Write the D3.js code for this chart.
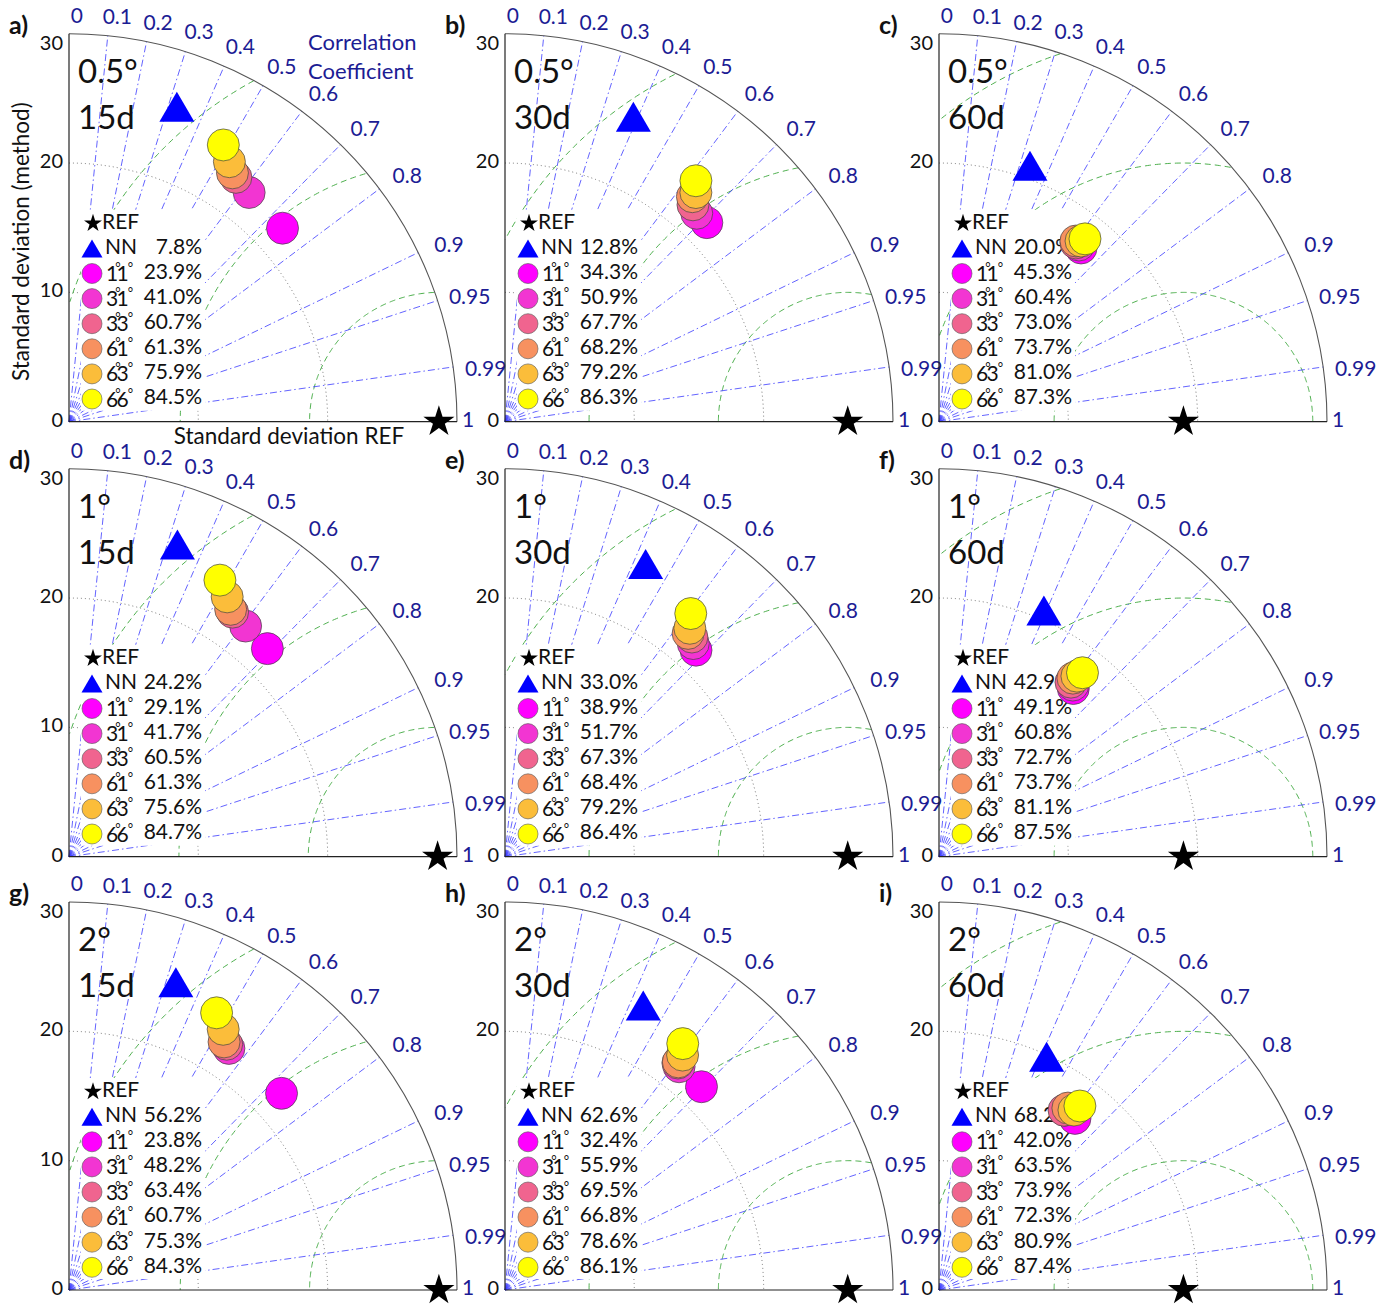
<!DOCTYPE html>
<html>
<head>
<meta charset="utf-8">
<script src="https://cdn.jsdelivr.net/npm/d3@7"></script>
<style>
  body { margin: 0; background: #fff; }
  svg { display: block; }
  text { font-family: Lato, "Open Sans", sans-serif; }
</style>
</head>
<body>
<svg id="chart"></svg>
<script>
// ---- data ----
const panelLetters = ["a)", "b)", "c)", "d)", "e)", "f)", "g)", "h)", "i)"];
const resolutions = ["0.5°", "0.5°", "0.5°", "1°", "1°", "1°", "2°", "2°", "2°"];
const windows = ["15d", "30d", "60d", "15d", "30d", "60d", "15d", "30d", "60d"];

const refStd = [28.6, 26.5, 18.9, 28.5, 26.5, 18.9, 28.6, 26.5, 18.9];

const nnStd = [25.74, 25.58, 21.0, 25.56, 25.11, 20.69, 25.19, 24.46, 19.86];
const nnCorr = [0.324, 0.388, 0.335, 0.328, 0.433, 0.392, 0.328, 0.437, 0.419];
const nnPct = ["7.8%", "12.8%", "20.0%", "24.2%", "33.0%", "42.9%", "56.2%", "62.6%", "68.2%"];

const methodNames = ["11", "31", "33", "61", "63", "66"];
const methodColors = ["#ff00ff", "#f235d2", "#f0648f", "#f79160", "#fbbd3a", "#ffff00"];

// one row per panel, one column per method
const methodStd = [
  [22.28, 22.54, 22.88, 23.02, 23.62, 24.50],
  [21.92, 21.90, 22.19, 22.64, 23.06, 23.77],
  [17.35, 17.43, 17.41, 17.53, 17.77, 18.09],
  [22.23, 22.46, 22.75, 22.85, 23.52, 24.36],
  [21.75, 21.99, 22.30, 22.33, 22.72, 23.66],
  [16.64, 16.83, 16.92, 17.26, 17.57, 18.04],
  [22.39, 22.40, 22.58, 22.62, 23.42, 24.28],
  [21.86, 21.89, 22.06, 22.15, 22.77, 23.49],
  [16.93, 16.98, 16.93, 17.24, 17.39, 17.92]
];
const methodCorr = [
  [0.741, 0.618, 0.564, 0.549, 0.525, 0.487],
  [0.712, 0.677, 0.655, 0.640, 0.640, 0.621],
  [0.633, 0.621, 0.608, 0.604, 0.618, 0.624],
  [0.690, 0.608, 0.556, 0.547, 0.520, 0.479],
  [0.679, 0.662, 0.648, 0.634, 0.629, 0.607],
  [0.624, 0.615, 0.603, 0.600, 0.607, 0.615],
  [0.734, 0.552, 0.540, 0.530, 0.509, 0.470],
  [0.695, 0.615, 0.606, 0.605, 0.603, 0.585],
  [0.621, 0.574, 0.571, 0.578, 0.600, 0.608]
];
const methodPct = [
  ["23.9%", "41.0%", "60.7%", "61.3%", "75.9%", "84.5%"],
  ["34.3%", "50.9%", "67.7%", "68.2%", "79.2%", "86.3%"],
  ["45.3%", "60.4%", "73.0%", "73.7%", "81.0%", "87.3%"],
  ["29.1%", "41.7%", "60.5%", "61.3%", "75.6%", "84.7%"],
  ["38.9%", "51.7%", "67.3%", "68.4%", "79.2%", "86.4%"],
  ["49.1%", "60.8%", "72.7%", "73.7%", "81.1%", "87.5%"],
  ["23.8%", "48.2%", "63.4%", "60.7%", "75.3%", "84.3%"],
  ["32.4%", "55.9%", "69.5%", "66.8%", "78.6%", "86.1%"],
  ["42.0%", "63.5%", "73.9%", "72.3%", "80.9%", "87.4%"]
];

const corrTicks = [0, 0.1, 0.2, 0.3, 0.4, 0.5, 0.6, 0.7, 0.8, 0.9, 0.95, 0.99, 1];
const corrLines = [0.1, 0.2, 0.3, 0.4, 0.5, 0.6, 0.7, 0.8, 0.9, 0.95, 0.99];
const stdGrid = [10, 20];
const rmsLevels = [10, 20, 30];
const stdTicksFirstCol = [0, 10, 20, 30];
const stdTicksOtherCols = [0, 20, 30];
const stdMax = 30;

// ---- layout ----
const W = 1381, H = 1305;
const R = 388;
const colX = [69, 505, 939];
const rowY = [421.7, 856.7, 1290];
const navy = "#1c1c94";
const fs = 21;

const r = d3.scaleLinear().domain([0, stdMax]).range([0, R]);

const svg = d3.select("#chart").attr("width", W).attr("height", H);

function polar(std, corr) {
  const a = Math.acos(corr);
  return [r(std * Math.cos(a)), -r(std * Math.sin(a))];
}

// where the correlation labels sit around the outer arc
function corrLabelPos(c) {
  if (c === 1) return [R + 5, 0];
  const a = Math.acos(c) - (1.1 * Math.PI) / 180;
  const rr = 404 + 16 * c;
  return [rr * Math.cos(a), -rr * Math.sin(a)];
}

function trianglePath(w, h) {
  return `M0,${-h / 2}L${w / 2},${h / 2}L${-w / 2},${h / 2}Z`;
}

const starBig = d3.symbol().type(d3.symbolStar).size(300)();
const starSmall = d3.symbol().type(d3.symbolStar).size(100)();

function drawPanel(p) {
  const col = p % 3, row = Math.floor(p / 3);
  const g = svg.append("g").attr("transform", `translate(${colX[col]},${rowY[row]})`);
  const ref = refStd[p];

  // std dotted arcs
  g.selectAll(".stdgrid")
    .data(stdGrid)
    .join("path")
    .attr("d", (d) => `M0,${-r(d)}A${r(d)},${r(d)} 0 0,1 ${r(d)},0`)
    .attr("fill", "none")
    .attr("stroke", "#666")
    .attr("stroke-width", 0.9)
    .attr("stroke-dasharray", "1,3");

  // RMS (centred on REF) dashed green arcs, clipped to the quadrant
  const line = d3.line().x((d) => r(d[0])).y((d) => -r(d[1]));
  rmsLevels.forEach((lev) => {
    const pts = d3.range(0, 180.01, 0.5)
      .map((t) => [ref + lev * Math.cos((t * Math.PI) / 180), lev * Math.sin((t * Math.PI) / 180)])
      .filter((d) => d[0] >= 0 && Math.hypot(d[0], d[1]) <= stdMax);
    if (pts.length > 1) {
      g.append("path")
        .attr("d", line(pts))
        .attr("fill", "none")
        .attr("stroke", "#3aa63a")
        .attr("stroke-width", 0.9)
        .attr("stroke-dasharray", "6,4");
    }
  });

  // correlation dash-dot lines
  g.selectAll(".corr")
    .data(corrLines)
    .join("line")
    .attr("x1", 0)
    .attr("y1", 0)
    .attr("x2", (d) => polar(stdMax, d)[0])
    .attr("y2", (d) => polar(stdMax, d)[1])
    .attr("stroke", "#3b3bff")
    .attr("stroke-width", 0.8)
    .attr("stroke-dasharray", "7,3,1.5,3");

  // outer arc and axes
  g.append("path")
    .attr("d", `M0,${-R}A${R},${R} 0 0,1 ${R},0`)
    .attr("fill", "none")
    .attr("stroke", "#555")
    .attr("stroke-width", 1.1);
  g.append("line").attr("x1", 0).attr("y1", 0).attr("x2", 0).attr("y2", -R)
    .attr("stroke", "#222").attr("stroke-width", 1.2);
  g.append("line").attr("x1", 0).attr("y1", 0).attr("x2", R).attr("y2", 0)
    .attr("stroke", "#222").attr("stroke-width", 1.2);

  // std tick labels
  const ticks = col === 0 ? stdTicksFirstCol : stdTicksOtherCols;
  g.selectAll(".ytick")
    .data(ticks)
    .join("text")
    .attr("x", -6)
    .attr("y", (d) => -r(d) + (d === stdMax ? 11 : 0))
    .attr("text-anchor", "end")
    .attr("dominant-baseline", "middle")
    .attr("font-size", 20)
    .attr("fill", "#111")
    .text((d) => d);

  // correlation labels
  g.selectAll(".ctick")
    .data(corrTicks)
    .join("text")
    .attr("x", (d) => corrLabelPos(d)[0])
    .attr("y", (d) => corrLabelPos(d)[1])
    .attr("text-anchor", (d) => (d === 1 ? "start" : "middle"))
    .attr("dominant-baseline", "middle")
    .attr("font-size", fs)
    .attr("fill", navy)
    .text((d) => d);

  // panel letter and title
  g.append("text").attr("x", -60).attr("y", -388)
    .attr("font-size", 25).attr("font-weight", "bold").attr("fill", "#111")
    .text(panelLetters[p]);
  g.append("text").attr("x", 9).attr("y", -339)
    .attr("font-size", 33).attr("fill", "#111").text(resolutions[p]);
  g.append("text").attr("x", 9).attr("y", -293)
    .attr("font-size", 33).attr("fill", "#111").text(windows[p]);

  // legend
  const lg = g.append("g");
  lg.append("rect").attr("x", 12).attr("y", -212).attr("width", 124).attr("height", 201).attr("fill", "#fff");
  const rowStep = 25.1;
  const rowTop = -198.4;

  lg.append("path").attr("d", starSmall).attr("transform", `translate(24,${rowTop})`).attr("fill", "#000");
  lg.append("text").attr("x", 33).attr("y", rowTop).attr("dominant-baseline", "middle")
    .attr("font-size", fs).attr("fill", "#111").text("REF");

  const nnY = rowTop + rowStep;
  lg.append("path").attr("d", trianglePath(21, 18)).attr("transform", `translate(23,${nnY})`).attr("fill", "#0000ff");
  lg.append("text").attr("x", 36).attr("y", nnY).attr("dominant-baseline", "middle")
    .attr("font-size", fs).attr("fill", "#111").text("NN");
  lg.append("text").attr("x", 133).attr("y", nnY).attr("text-anchor", "end").attr("dominant-baseline", "middle")
    .attr("font-size", fs).attr("fill", "#111").text(nnPct[p]);

  methodNames.forEach((name, i) => {
    const y = rowTop + rowStep * (i + 2);
    lg.append("circle").attr("cx", 23).attr("cy", y).attr("r", 10)
      .attr("fill", methodColors[i]).attr("stroke", "#555").attr("stroke-width", 0.6);
    const t = lg.append("text").attr("x", 37).attr("y", y + 7.5)
      .attr("font-size", fs).attr("fill", "#111");
    t.append("tspan").text(name[0]);
    t.append("tspan").attr("dx", -3).attr("dy", -9).attr("font-size", 13).text("°");
    t.append("tspan").attr("dx", -4).attr("dy", 9).text(name[1]);
    t.append("tspan").attr("dx", -1).attr("dy", -9).attr("font-size", 13).text("°");
    lg.append("text").attr("x", 133).attr("y", y).attr("text-anchor", "end").attr("dominant-baseline", "middle")
      .attr("font-size", fs).attr("fill", "#111").text(methodPct[p][i]);
  });

  // markers
  const nn = polar(nnStd[p], nnCorr[p]);
  g.append("path").attr("d", trianglePath(35, 30))
    .attr("transform", `translate(${nn[0]},${nn[1]})`).attr("fill", "#0000ff");

  const pts = methodNames.map((name, i) => ({
    pos: polar(methodStd[p][i], methodCorr[p][i]),
    color: methodColors[i]
  }));
  g.selectAll(".pt")
    .data(pts)
    .join("circle")
    .attr("cx", (d) => d.pos[0])
    .attr("cy", (d) => d.pos[1])
    .attr("r", 16)
    .attr("fill", (d) => d.color)
    .attr("stroke", "#444")
    .attr("stroke-width", 0.7);

  g.append("path").attr("d", starBig).attr("transform", `translate(${r(ref)},0)`).attr("fill", "#000");

  if (p === 0) {
    g.append("text").attr("x", 239).attr("y", -372).attr("font-size", 22).attr("fill", navy).text("Correlation");
    g.append("text").attr("x", 239).attr("y", -343).attr("font-size", 22).attr("fill", navy).text("Coefficient");
    g.append("text").attr("x", 220).attr("y", 22).attr("text-anchor", "middle")
      .attr("font-size", 22.5).attr("fill", "#111").text("Standard deviation REF");
    g.append("text")
      .attr("transform", `translate(-46,${-180}) rotate(-90)`)
      .attr("text-anchor", "middle")
      .attr("dominant-baseline", "middle")
      .attr("font-size", 22.5).attr("fill", "#111").text("Standard deviation (method)");
  }
}

d3.range(9).forEach(drawPanel);
</script>
</body>
</html>
